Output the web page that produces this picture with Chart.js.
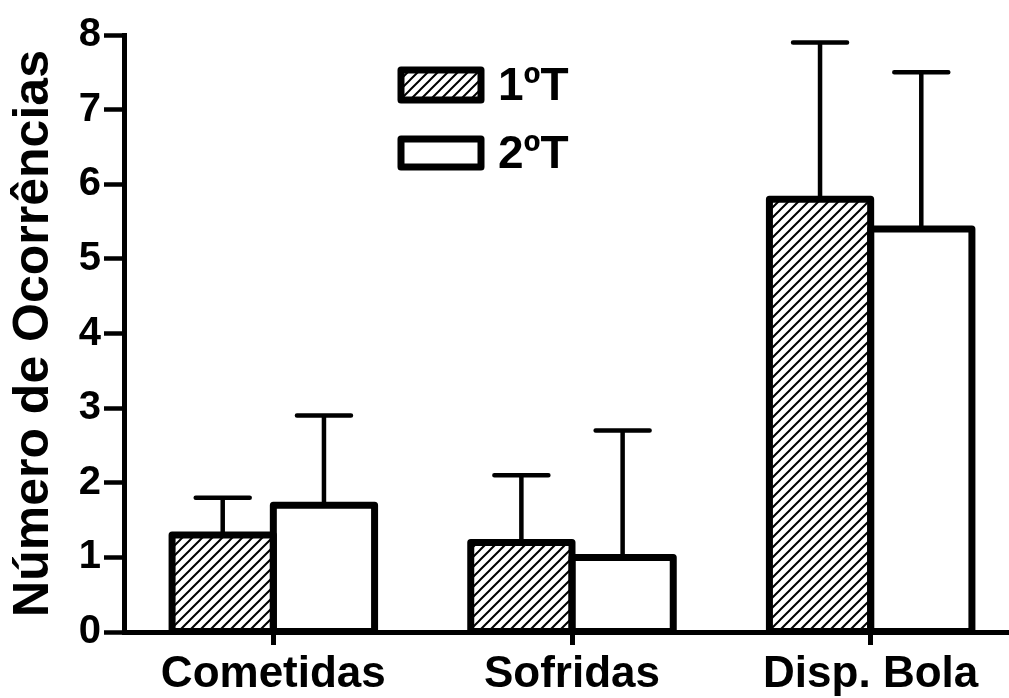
<!DOCTYPE html>
<html>
<head>
<meta charset="utf-8">
<script src="https://cdn.jsdelivr.net/npm/chart.js@4/dist/chart.umd.min.js"></script>
<style>
  html, body { margin: 0; padding: 0; background: #fff; overflow: hidden; }
  #wrap { width: 1020px; height: 698px; }
</style>
</head>
<body>
<div id="wrap"><canvas id="chart" width="1020" height="698"></canvas></div>
<script>
// dados
const categorias = ['Cometidas', 'Sofridas', 'Disp. Bola'];
const serieLabels = ['1ºT', '2ºT'];
const medias1T = [1.3, 1.2, 5.8];
const medias2T = [1.7, 1.0, 5.4];
const erros1T = [0.5, 0.9, 2.1];
const erros2T = [1.2, 1.7, 2.1];
const yTicks = [0, 1, 2, 3, 4, 5, 6, 7, 8];

const FONTE = '"Liberation Sans", Arial, sans-serif';

// padrão hachurado (linhas diagonais "/")
function criaHachura() {
    const c = document.createElement('canvas');
    c.width = 10; c.height = 10;
    const g = c.getContext('2d');
    g.fillStyle = '#fff';
    g.fillRect(0, 0, 10, 10);
    g.strokeStyle = '#000';
    g.lineWidth = 2;
    g.beginPath();
    g.moveTo(-5, 5); g.lineTo(5, -5);
    g.moveTo(0, 10); g.lineTo(10, 0);
    g.moveTo(5, 15); g.lineTo(15, 5);
    g.stroke();
    return g.createPattern(c, 'repeat');
}
const hachura = criaHachura();

// contorno das barras + barras de erro (só para cima)
const contornoEErro = {
    id: 'contornoEErro',
    afterDatasetsDraw(chart) {
        const ctx = chart.ctx;
        const yScale = chart.scales.y;
        ctx.save();
        ctx.strokeStyle = '#000';
        chart.data.datasets.forEach((ds, i) => {
            const meta = chart.getDatasetMeta(i);
            meta.data.forEach((bar) => {
                const left = bar.x - bar.width / 2;
                ctx.lineWidth = 7;
                ctx.lineJoin = 'round';
                ctx.strokeRect(left, bar.y, bar.width, bar.base - bar.y);
            });
        });
        chart.data.datasets.forEach((ds, i) => {
            const meta = chart.getDatasetMeta(i);
            meta.data.forEach((bar, j) => {
                const yErr = yScale.getPixelForValue(ds.data[j] + ds.erros[j]);
                ctx.lineWidth = 4.5;
                ctx.lineCap = 'round';
                ctx.beginPath();
                ctx.moveTo(bar.x, bar.y);
                ctx.lineTo(bar.x, yErr);
                ctx.moveTo(bar.x - 27, yErr);
                ctx.lineTo(bar.x + 27, yErr);
                ctx.stroke();
            });
        });
        ctx.restore();
    }
};

// legenda desenhada à mão, dentro da área do gráfico
const legendaManual = {
    id: 'legendaManual',
    afterDraw(chart) {
        const ctx = chart.ctx;
        ctx.save();
        const caixas = [{ y: 70, h: 30 }, { y: 139, h: 28 }];
        chart.data.datasets.forEach((ds, i) => {
            const cx = caixas[i];
            ctx.fillStyle = ds.backgroundColor;
            ctx.fillRect(401, cx.y, 80, cx.h);
            ctx.lineWidth = 7;
            ctx.lineJoin = 'round';
            ctx.strokeStyle = '#000';
            ctx.strokeRect(401, cx.y, 80, cx.h);
            ctx.fillStyle = '#000';
            ctx.font = 'bold 46px ' + FONTE;
            ctx.textBaseline = 'middle';
            ctx.textAlign = 'left';
            ctx.fillText(ds.label, 498, cx.y + cx.h / 2 + 2);
        });
        ctx.restore();
    }
};

new Chart(document.getElementById('chart'), {
    type: 'bar',
    data: {
        labels: categorias,
        datasets: [
            { label: serieLabels[0], data: medias1T, erros: erros1T, backgroundColor: hachura, borderWidth: 0 },
            { label: serieLabels[1], data: medias2T, erros: erros2T, backgroundColor: '#fff', borderWidth: 0 }
        ]
    },
    options: {
        responsive: false,
        animation: false,
        devicePixelRatio: 1,
        layout: { padding: { top: 35, right: 0, left: 0, bottom: 0 } },
        datasets: { bar: { categoryPercentage: 0.678, barPercentage: 1.0 } },
        plugins: {
            legend: { display: false },
            tooltip: { enabled: false }
        },
        scales: {
            x: {
                offset: true,
                grid: {
                    offset: false,
                    drawOnChartArea: false,
                    drawTicks: true,
                    tickLength: 13,
                    tickWidth: 5,
                    color: '#000'
                },
                border: { display: true, color: '#000', width: 5 },
                ticks: {
                    color: '#000',
                    padding: 3,
                    font: { family: FONTE, size: 44, weight: 'bold' }
                },
                afterFit(scale) { scale.height = 66; }
            },
            y: {
                min: 0,
                max: 8,
                afterBuildTicks(scale) { scale.ticks = yTicks.map(v => ({ value: v })); },
                grid: {
                    drawOnChartArea: false,
                    drawTicks: true,
                    tickLength: 20,
                    tickWidth: 4.5,
                    color: '#000'
                },
                border: { display: true, color: '#000', width: 5 },
                ticks: {
                    color: '#000',
                    padding: 3,
                    font: { family: FONTE, size: 40, weight: 'bold' }
                },
                title: {
                    display: true,
                    text: 'Número de Ocorrências',
                    color: '#000',
                    padding: { top: 4, bottom: 0 },
                    font: { family: FONTE, size: 50, weight: 'bold' }
                },
                afterFit(scale) { scale.width = 124; }
            }
        }
    },
    plugins: [contornoEErro, legendaManual]
});
</script>
</body>
</html>
